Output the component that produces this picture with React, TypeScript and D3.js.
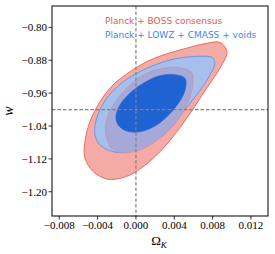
import React from "react";
import * as d3 from "d3";

// contour outlines, [Omega_K, w]
const bossOuter: [number, number][] = [
  [0.00946, -0.8552], [0.00876, -0.8365], [0.00737, -0.8389], [0.00459, -0.8552],
  [0.00282, -0.8674], [0.00112, -0.8837], [-0.00063, -0.908], [-0.0024, -0.9403],
  [-0.00375, -0.9809], [-0.0048, -1.0296], [-0.00532, -1.0782], [-0.00532, -1.1179],
  [-0.00445, -1.1512], [-0.00306, -1.1689], [-0.00201, -1.1689], [-0.00063, -1.1592],
  [0.00076, -1.139], [0.00285, -1.0943], [0.00529, -1.0213], [0.00737, -0.9484],
  [0.00876, -0.8997], [0.00946, -0.8674],
];
const bossInner: [number, number][] = [
  [0.00285, -0.8997], [0.00459, -0.8983], [0.00581, -0.9094], [0.00591, -0.9403],
  [0.00545, -0.9809], [0.00424, -1.0296], [0.0025, -1.07], [0.00042, -1.0984],
  [-0.00132, -1.105], [-0.00253, -1.0943], [-0.00313, -1.0619], [-0.00306, -1.0254],
  [-0.00237, -0.9889], [-0.00097, -0.9484], [0.00076, -0.916],
];
const voidsOuter: [number, number][] = [
  [0.00806, -0.8754], [0.00772, -0.8715], [0.00563, -0.8715], [0.00355, -0.8795],
  [0.00112, -0.8997], [-0.00132, -0.9323], [-0.00306, -0.9727], [-0.0041, -1.0213],
  [-0.00428, -1.0619], [-0.00375, -1.0862], [-0.00237, -1.1025], [-0.00132, -1.104],
  [0.00042, -1.0904], [0.0025, -1.0619], [0.00459, -1.0133], [0.00633, -0.9646],
  [0.00772, -0.916], [0.00824, -0.8876],
];
const voidsInner: [number, number][] = [
  [0.00511, -0.924], [0.00424, -0.916], [0.0025, -0.9177], [0.00076, -0.9362],
  [-0.00063, -0.9605], [-0.00167, -0.989], [-0.00209, -1.0174], [-0.00185, -1.0376],
  [-0.00097, -1.0522], [0.00042, -1.0539], [0.00216, -1.0376], [0.00389, -1.0011],
  [0.00493, -0.9646], [0.00522, -0.9403],
];

const xTicks = [-0.008, -0.004, 0.0, 0.004, 0.008, 0.012];
const yTicks = [-0.8, -0.88, -0.96, -1.04, -1.12, -1.2];
const legendLabels = ["Planck + BOSS consensus", "Planck + LOWZ + CMASS + voids"];
const legendColors = ["#e9554d", "#3d86e8"];
const fiducial = { omegaK: 0, w: -1 };

const W = 275;
const H = 254;
const m = { left: 52, right: 268, top: 6, bottom: 216 };

export default function App() {
  const x = d3.scaleLinear().domain([-0.00876, 0.01378]).range([m.left, m.right]);
  const y = d3.scaleLinear().domain([-0.748, -1.259]).range([m.top, m.bottom]);
  const line = d3
    .line<[number, number]>()
    .x((d) => x(d[0]))
    .y((d) => y(d[1]))
    .curve(d3.curveCatmullRomClosed.alpha(0.5));
  const fx = d3.format(".3f");
  const fy = d3.format(".2f");
  const serif = "'Liberation Serif', 'DejaVu Serif', serif";

  return (
    <svg width={W} height={H} style={{ position: "absolute", left: 0, top: 0 }}>
      <rect x={0} y={0} width={W} height={H} fill="#fff" />
      <path d={line(bossOuter) ?? ""} fill="#f4aaa5" stroke="#ec6a62" strokeWidth={1} />
      <path d={line(voidsOuter) ?? ""} fill="#a6bfec" stroke="#6394e4" strokeWidth={0.9} />
      <path d={line(bossInner) ?? ""} fill="#a6a9d8" stroke="#c98a9f" strokeWidth={0.6} />
      <path d={line(voidsInner) ?? ""} fill="#1f63d2" stroke="#2a66d0" strokeWidth={0.8} />

      <line x1={x(fiducial.omegaK)} x2={x(fiducial.omegaK)} y1={m.top} y2={m.bottom}
        stroke="#808080" strokeWidth={1.2} strokeDasharray="3.5,2" />
      <line x1={m.left} x2={m.right} y1={y(fiducial.w)} y2={y(fiducial.w)}
        stroke="#808080" strokeWidth={1.2} strokeDasharray="3.5,2" />

      {legendLabels.map((t, i) => (
        <text key={t} x={105} y={23.5 + i * 14} fontSize={9} fill={legendColors[i]}
          fontFamily="'DejaVu Sans', sans-serif">{t}</text>
      ))}

      <rect x={m.left} y={m.top} width={m.right - m.left} height={m.bottom - m.top}
        fill="none" stroke="#000" strokeWidth={1} />

      {xTicks.map((t) => (
        <g key={t}>
          <line x1={x(t)} x2={x(t)} y1={m.bottom} y2={m.bottom + 3.5} stroke="#000" strokeWidth={0.8} />
          <text x={x(t)} y={m.bottom + 13} fontSize={11} textAnchor="middle" fontFamily={serif}>{fx(t)}</text>
        </g>
      ))}
      {yTicks.map((t) => (
        <g key={t}>
          <line x1={m.left - 3.5} x2={m.left} y1={y(t)} y2={y(t)} stroke="#000" strokeWidth={0.8} />
          <text x={m.left - 5} y={y(t) + 3.8} fontSize={11} textAnchor="end" fontFamily={serif}>{fy(t)}</text>
        </g>
      ))}

      <text x={159} y={245} fontSize={13} textAnchor="middle" fontFamily={serif}>
        Ω<tspan fontStyle="italic" fontSize={9} dy={3}>K</tspan>
      </text>
      <text transform={`translate(13,${(m.top + m.bottom) / 2}) rotate(-90)`} fontSize={14}
        textAnchor="middle" fontStyle="italic" fontFamily={serif}>w</text>
    </svg>
  );
}
